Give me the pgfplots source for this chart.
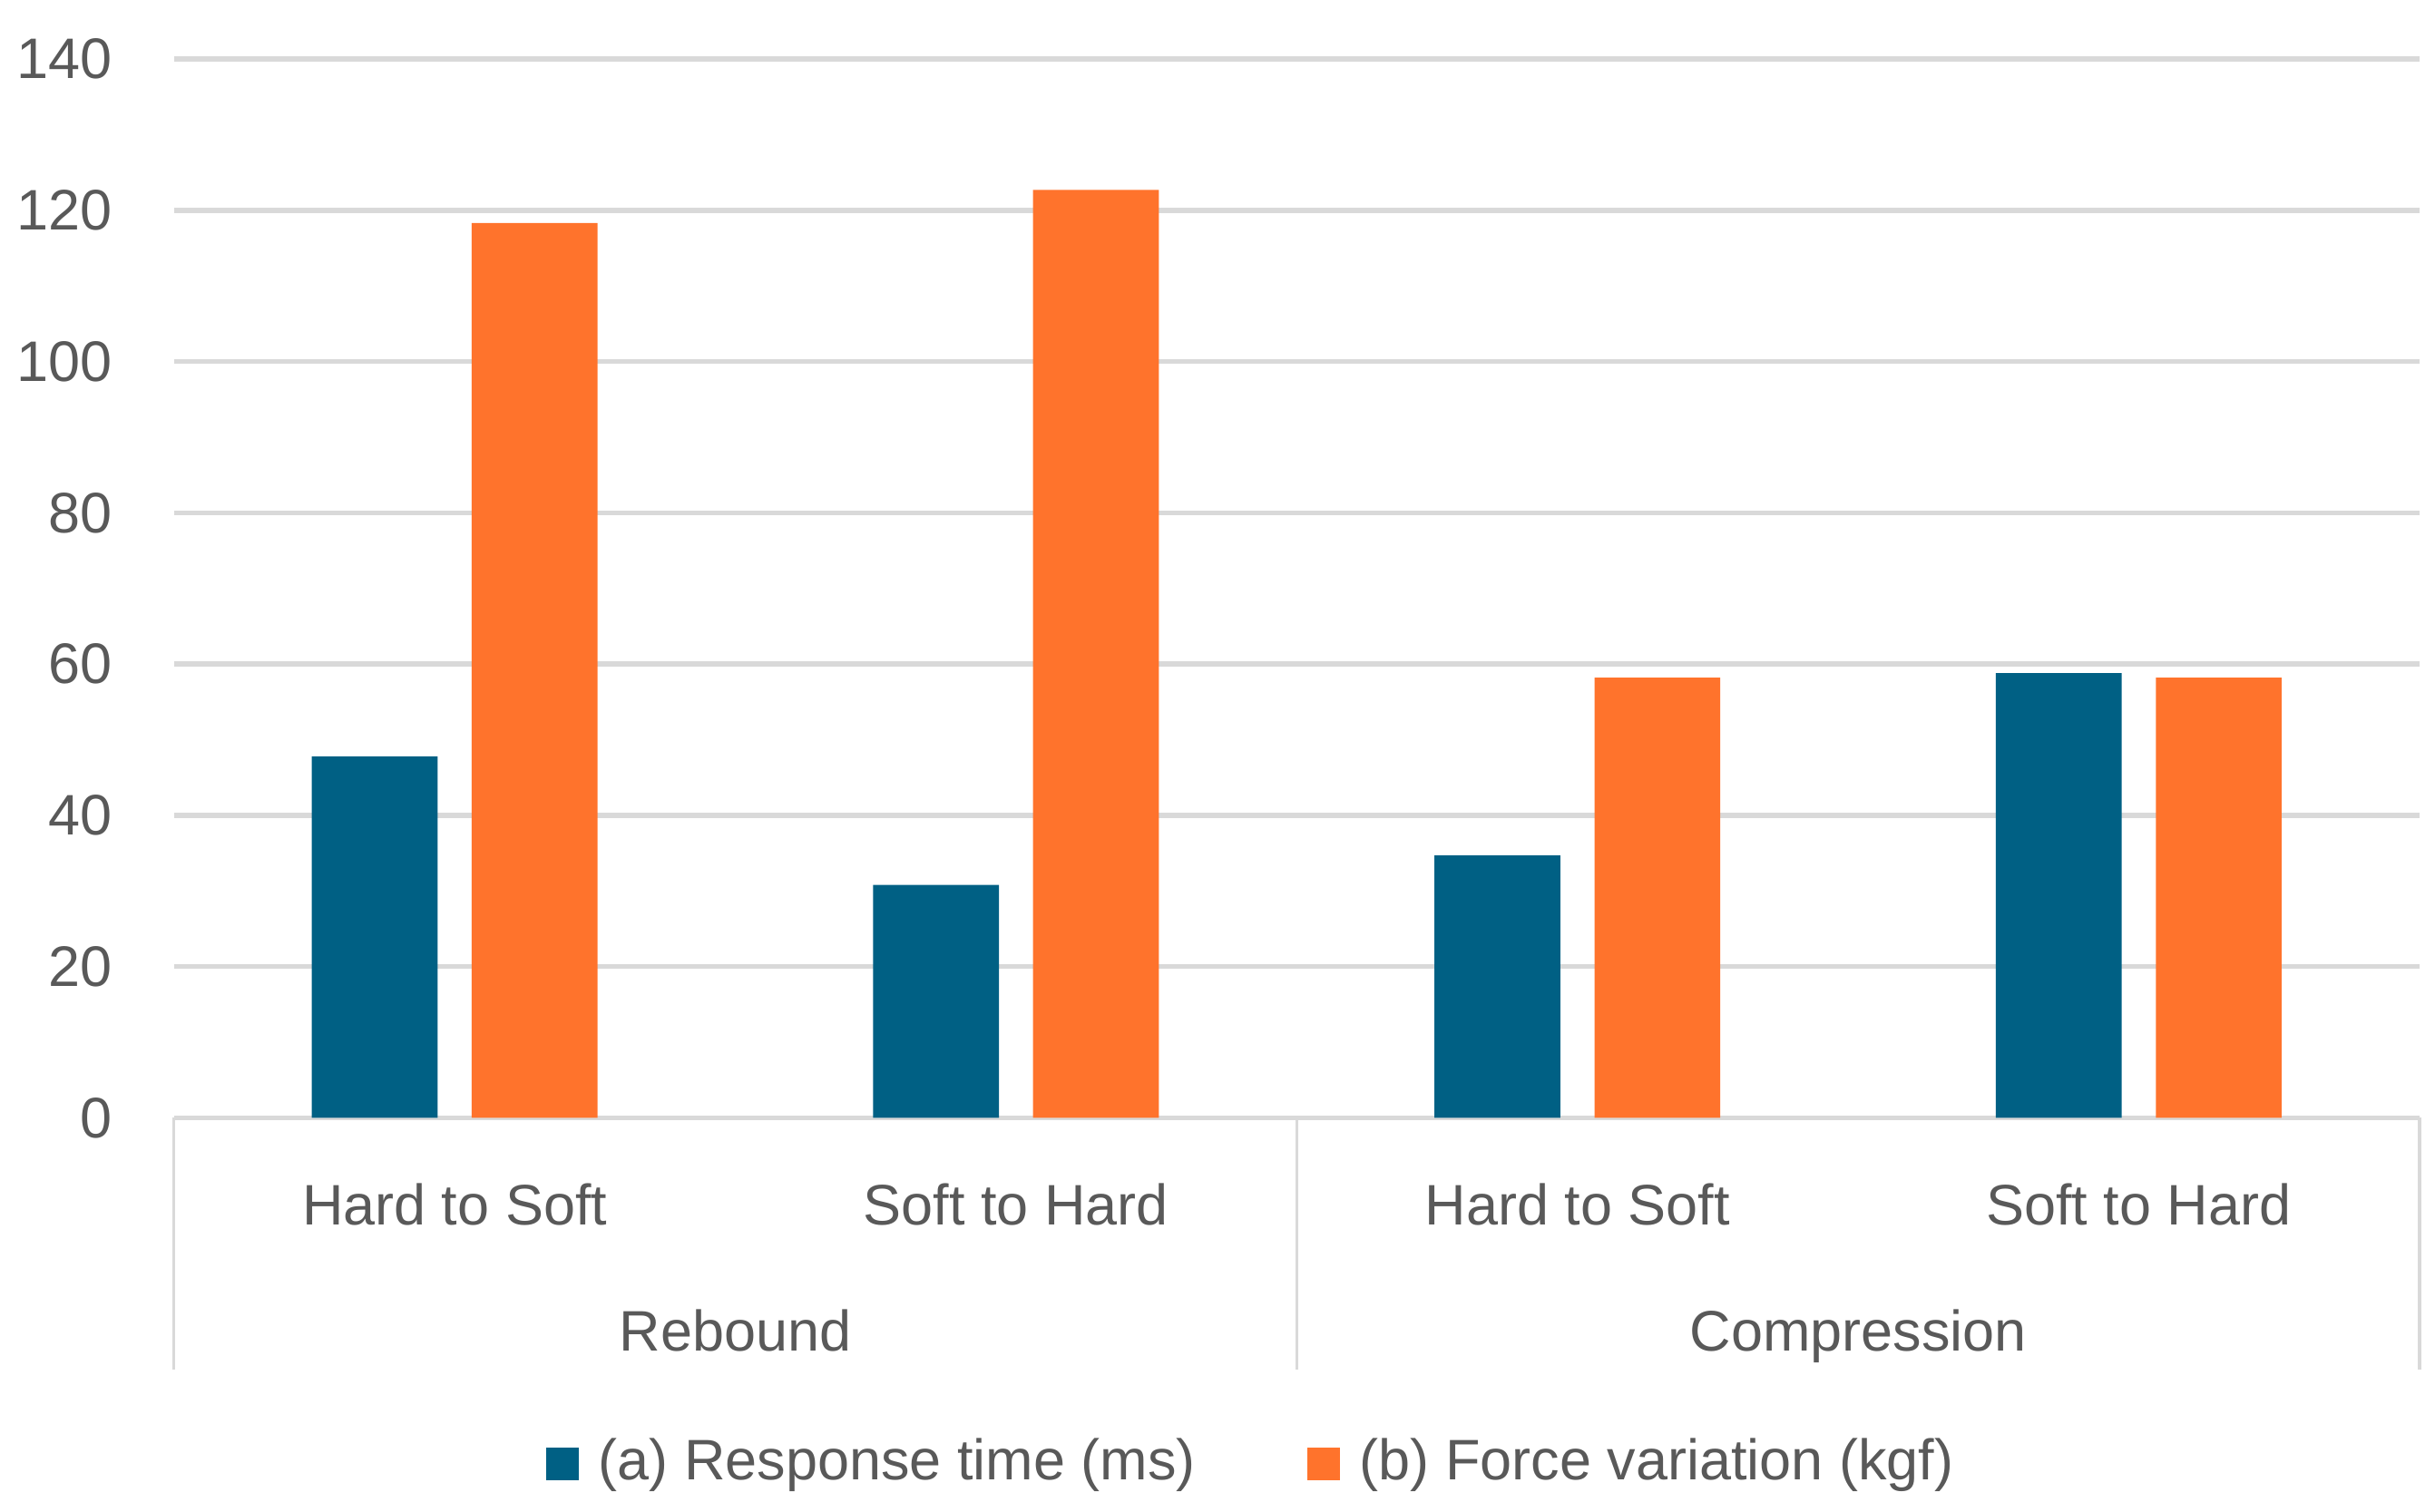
\documentclass[border=0pt]{standalone}
\usepackage{fontspec}
\setmainfont{Liberation Sans}
\usepackage{pgfplots}
\pgfplotsset{compat=1.18}
\usepackage{xcolor}

\definecolor{barblue}{RGB}{0,96,132}
\definecolor{barorange}{RGB}{255,115,44}
\definecolor{gridgray}{RGB}{217,217,217}
\definecolor{txtgray}{RGB}{89,89,89}
\newcommand{\cf}{\fontsize{9.2pt}{11pt}\selectfont}

\begin{document}
\begin{tikzpicture}
\begin{axis}[
    at={(0,0)}, anchor=south west,
    scale only axis,
    width=361.5pt,
    height=170.5pt,
    ybar,
    bar width=20.25pt,
    xmin=-0.5, xmax=3.5,
    ymin=0, ymax=140,
    ytick={0,20,...,140},
    xtick={0,1,2,3},
    xticklabels={Hard to Soft, Soft to Hard, Hard to Soft, Soft to Hard},
    axis line style={draw=none},
    tick style={draw=none},
    major tick length=0pt,
    ymajorgrids=true,
    grid style={gridgray, line width=0.8pt},
    /pgf/number format/assume math mode=true,
    tick label style={font=\cf, text=txtgray},
    yticklabel style={anchor=east, inner sep=0pt, xshift=-9.75pt},
    xticklabel style={anchor=base, inner sep=0pt, yshift=-17.25pt},
    clip=false,
    legend style={draw=none, fill=none, font=\cf, text=txtgray,
        at={(0.482,-0.327)}, anchor=center,
        /tikz/every even column/.append style={column sep=16pt}},
    legend columns=2,
    legend image code/.code={\fill[#1] (0pt,-2.6pt) rectangle (5.25pt,2.6pt);
        \path (6.4pt,0pt);},
]
\addplot[fill=barblue, draw=none, bar shift=-12.875pt]
    coordinates {(0,47.8) (1,30.8) (2,34.7) (3,58.8)};
\addplot[fill=barorange, draw=none, bar shift=12.875pt]
    coordinates {(0,118.3) (1,122.7) (2,58.2) (3,58.2)};
\legend{(a) Response time (ms), (b) Force variation (kgf)}

% category separators and group labels
\draw[gridgray, line width=0.5pt] (axis cs:-0.5,0) -- ([yshift=-40.5pt]axis cs:-0.5,0);
\draw[gridgray, line width=0.5pt] (axis cs:1.5,0) -- ([yshift=-40.5pt]axis cs:1.5,0);
\draw[gridgray, line width=0.5pt] (axis cs:3.5,0) -- ([yshift=-40.5pt]axis cs:3.5,0);
\node[anchor=base, inner sep=0pt, font=\cf, text=txtgray] at ([yshift=-37.5pt]axis cs:0.5,0) {Rebound};
\node[anchor=base, inner sep=0pt, font=\cf, text=txtgray] at ([yshift=-37.5pt]axis cs:2.5,0) {Compression};
\end{axis}
\pgfresetboundingbox
\path (-28pt,-63.4pt) rectangle (364pt,180pt);
\end{tikzpicture}
\end{document}
